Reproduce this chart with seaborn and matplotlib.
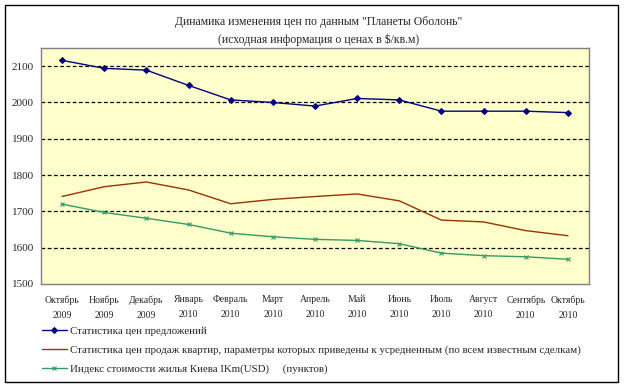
import matplotlib
matplotlib.use("Agg")
import matplotlib.pyplot as plt
import matplotlib.patches as mpatches
import pandas as pd
import seaborn as sns

months = ["Октябрь\n2009", "Ноябрь\n2009", "Декабрь\n2009", "Январь\n2010", "Февраль\n2010",
          "Март\n2010", "Апрель\n2010", "Май\n2010", "Июнь\n2010", "Июль\n2010",
          "Август\n2010", "Сентябрь\n2010", "Октябрь\n2010"]
offer_prices = [2116, 2094, 2089, 2047, 2007, 2000, 1990, 2011, 2007, 1976, 1976, 1976, 1972]
sale_prices = [1741, 1768, 1781, 1759, 1721, 1733, 1741, 1748, 1729, 1676, 1671, 1647, 1633]
kiev_index = [1720, 1697, 1681, 1664, 1640, 1630, 1623, 1620, 1611, 1585, 1578, 1575, 1568]

labels = [
    "Статистика цен предложений",
    "Статистика цен продаж квартир, параметры которых приведены к усредненным (по всем известным сделкам)",
    "Индекс стоимости жилья Киева IKm(USD)     (пунктов)",
]
colors = ["#000080", "#993300", "#339966"]
markers = ["D", None, "x"]

sns.set_style("white")
plt.rcParams["font.family"] = ["Liberation Serif", "DejaVu Serif"]

fig = plt.figure(figsize=(6.24, 3.88), dpi=100)
ax = fig.add_axes([41 / 624, 1 - 284 / 388, 548 / 624, 236 / 388])
ax.set_facecolor("#FFFFCC")

x = list(range(len(months)))
for values, label, color, marker in zip([offer_prices, sale_prices, kiev_index], labels, colors, markers):
    df = pd.DataFrame({"x": x, "y": values})
    sns.lineplot(data=df, x="x", y="y", ax=ax, color=color, linewidth=1.0,
                 marker=marker, markersize=3 if marker == "D" else 3.5,
                 markeredgecolor=color, markeredgewidth=0.8, label=label, legend=False)

ax.set_xlim(-0.5, len(months) - 0.5)
ax.set_ylim(1500, 2150)
ax.set_yticks(range(1500, 2101, 100))
ax.set_xticks(x)
ax.set_xticklabels(months, fontsize=7, linespacing=1.9)
ax.tick_params(axis="y", labelsize=8, length=0, pad=5)
ax.tick_params(axis="x", length=0, pad=8)
ax.set_xlabel("")
ax.set_ylabel("")
for yv in range(1600, 2101, 100):
    ax.axhline(yv, color="black", linestyle=(0, (3, 2)), linewidth=0.9, zorder=0.5)
for s in ax.spines.values():
    s.set_color("#808080")
    s.set_linewidth(1.0)

fig.text(0.51, 1 - 22 / 388, "Динамика изменения цен по данным \"Планеты Оболонь\"",
         ha="center", va="center", fontsize=8.5)
fig.text(0.51, 1 - 40 / 388, "(исходная информация о ценах в $/кв.м)",
         ha="center", va="center", fontsize=8.5)

handles, hl = ax.get_legend_handles_labels()
fig.legend(handles, hl, loc="upper left", bbox_to_anchor=(42 / 624, 1 - 326 / 388),
           frameon=False, fontsize=7.8, handlelength=2.3, handletextpad=0.3,
           labelspacing=0.85, borderaxespad=0, borderpad=0)

fig.patches.append(mpatches.Rectangle((5 / 624, 1 - 382 / 388), 613 / 624, 377 / 388,
                                      transform=fig.transFigure, fill=False,
                                      edgecolor="black", linewidth=1.0))

fig.savefig("out.png", dpi=100)
